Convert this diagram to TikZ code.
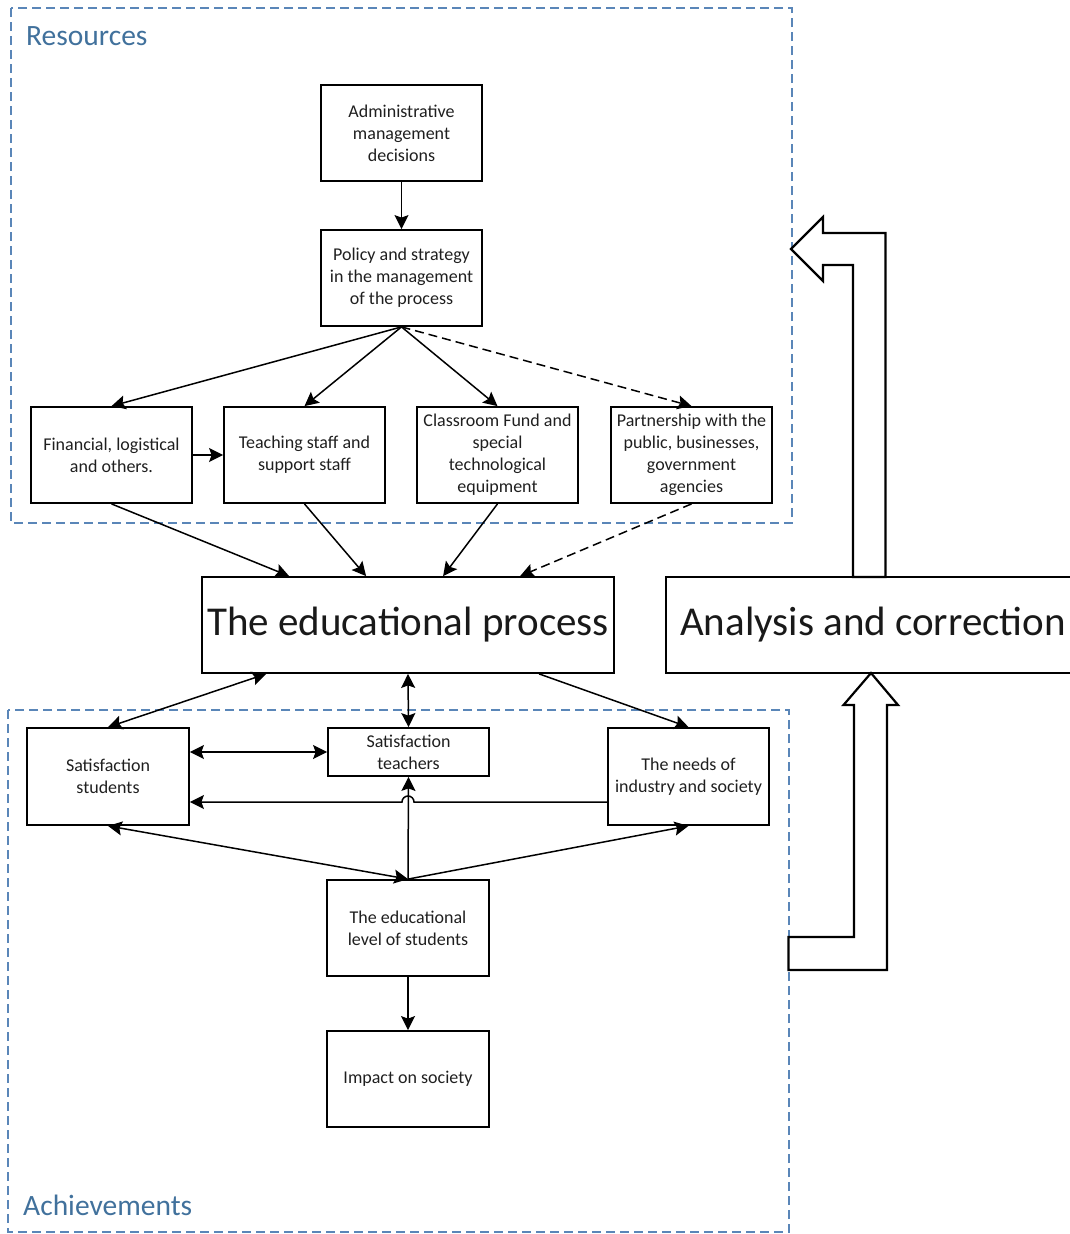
\documentclass[tikz,border=0pt]{standalone}
\usepackage{fontspec}
\setmainfont{Carlito}
\usetikzlibrary{arrows.meta,calc}
\definecolor{grptext}{HTML}{41719C}
\definecolor{grpline}{HTML}{5A86B8}
\begin{document}
\begin{tikzpicture}[x=1pt,y=1pt,
  box/.style={draw=black,line width=1.8pt,minimum width=161pt,minimum height=96pt,align=center,font=\fontsize{18}{22}\selectfont,inner sep=1pt,text=black!88},
  bigbox/.style={draw=black,line width=1.8pt,minimum width=412pt,minimum height=96pt,font=\fontsize{41}{48}\selectfont,inner sep=0pt,text=black!90},
  arr/.style={line width=1.5pt,-{Stealth[length=14pt,width=14pt,inset=2.5pt]}},
  darr/.style={line width=1.5pt,{Stealth[length=14pt,width=14pt,inset=2.5pt]}-{Stealth[length=14pt,width=14pt,inset=2.5pt]}},
  grpbox/.style={draw=grpline,line width=1.4pt,dash pattern=on 9pt off 5pt},
  grplabel/.style={text=grptext,font=\fontsize{29.5}{32}\selectfont,anchor=base west,inner sep=0pt},
  blockarrow/.style={draw=black,fill=white,line width=2.2pt,line join=miter}
]
\useasboundingbox (0,0) rectangle (1070,-1234);
\clip (0,0) rectangle (1070,-1234);

% group frames
\draw[grpbox] (11,-8) rectangle (792,-523);
\draw[grpbox] (8,-710) rectangle (789,-1232);
\node[grplabel] (lres) at (26,-45) {Resources};
\node[grplabel] (lach) at (23,-1215) {Achievements};

% nodes
\node[box] (admin) at (401.5,-133) {Administrative\\management\\decisions};
\node[box] (policy) at (401.5,-278) {Policy and strategy\\in the management\\of the process};
\node[box] (fin) at (111.5,-455) {Financial, logistical\\and others.};
\node[box] (teach) at (304.5,-455) {Teaching staff and\\support staff};
\node[box] (class) at (497.5,-455) {Classroom Fund and\\special\\technological\\equipment};
\node[box] (part) at (691.5,-455) {Partnership with the\\public, businesses,\\government\\agencies};
\node[bigbox] (ep) at (408,-625) {The educational process};
\node[bigbox,minimum width=414pt] (anal) at (873,-625) {Analysis and correction};
\node[box,minimum width=162pt,minimum height=97pt] (stud) at (108,-776.5) {Satisfaction\\students};
\node[box,minimum height=48pt] (teachsat) at (408.5,-752) {Satisfaction\\teachers};
\node[box,minimum height=97pt] (needs) at (688.5,-776.5) {The needs of\\industry and society};
\node[box,minimum width=162pt] (edlev) at (408,-928) {The educational\\level of students};
\node[box,minimum width=162pt] (impact) at (408,-1079) {Impact on society};

% resources edges
\draw[arr] (admin.south) -- (policy.north);
\draw[arr] (policy.south) -- (fin.north);
\draw[arr] (policy.south) -- (teach.north);
\draw[arr] (policy.south) -- (class.north);
\draw[arr,dash pattern=on 9pt off 5pt] (policy.south) -- (part.north);
\draw[arr] (fin.east) -- (teach.west);
\draw[arr] (fin.south) -- ([xshift=88pt]ep.north west);
\draw[arr] (teach.south) -- ([xshift=165pt]ep.north west);
\draw[arr] (class.south) -- ([xshift=242pt]ep.north west);
\draw[arr,dash pattern=on 9pt off 5pt] (part.south) -- ([xshift=319pt]ep.north west);

% achievements edges
\draw[darr] ([xshift=65pt]ep.south west) -- (stud.north);
\draw[darr] (ep.south) -- (teachsat.north);
\draw[arr] ([xshift=338pt]ep.south west) -- (needs.north);
\draw[darr] (stud.east |- teachsat.west) -- (teachsat.west);
\coordinate (hop) at ([yshift=-25.5pt]needs.west);
\draw[arr] (hop) -- ([xshift=6pt]edlev.north |- hop) arc[start angle=0,end angle=180,radius=6pt] -- (stud.east |- hop);
\draw[arr] (edlev.north) -- (teachsat.south);
\draw[darr] (stud.south) -- (edlev.north);
\draw[arr] (edlev.north) -- (needs.south);
\draw[arr] (edlev.south) -- (impact.north);

% block arrows
\draw[blockarrow] (853,-577) -- (853,-265) -- (823,-265) -- (823,-281) -- (791,-249) -- (823,-217) -- (823,-233) -- (885.5,-233) -- (885.5,-577) -- cycle;
\draw[blockarrow] (871,-673) -- (898,-705) -- (887,-705) -- (887,-970) -- (788.5,-970) -- (788.5,-937) -- (854,-937) -- (854,-705) -- (843.5,-705) -- cycle;
\end{tikzpicture}
\end{document}
